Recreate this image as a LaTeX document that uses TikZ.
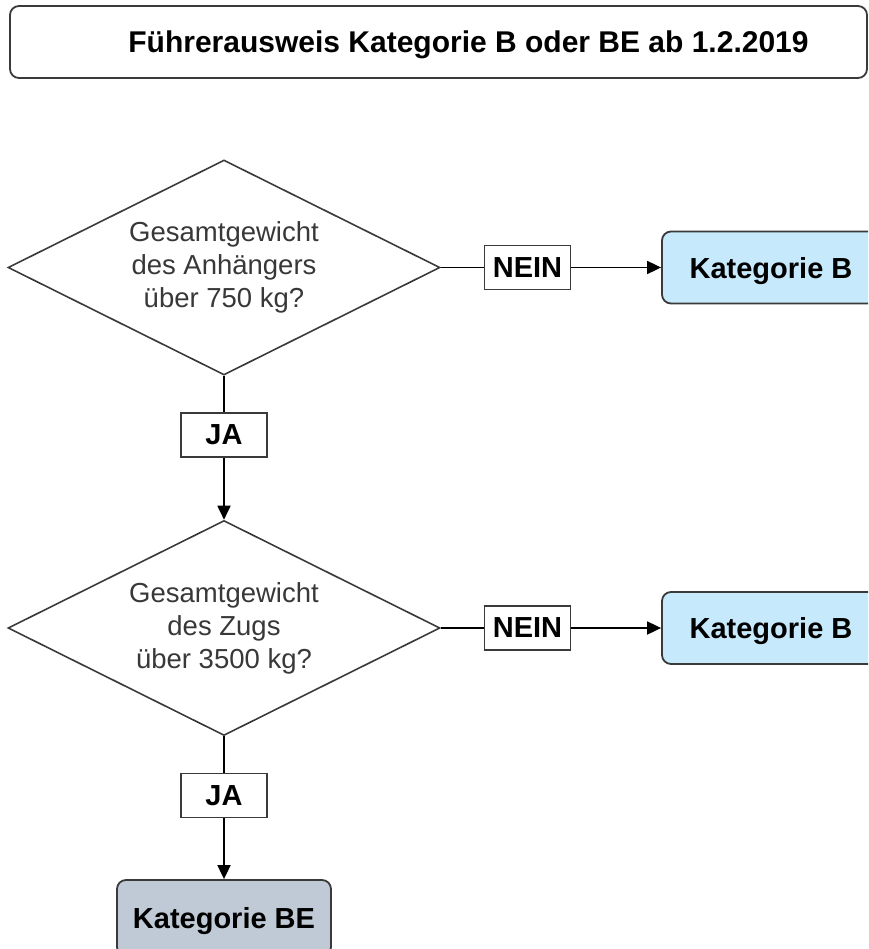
\documentclass[tikz,border=0pt]{standalone}
\usepackage{fontspec}
\setmainfont{Liberation Sans}
\usetikzlibrary{shapes.geometric,arrows.meta,positioning}
\definecolor{hellblau}{HTML}{C6EAFC}
\definecolor{graublau}{HTML}{BFCAD6}
\definecolor{rand}{HTML}{3A3A3A}
\begin{document}
\begin{tikzpicture}[x=1pt,y=-1pt,
    kasten/.style={draw=rand,line width=1.8pt,rounded corners=9pt,inner sep=0pt,minimum height=72pt,text depth=0pt,font=\fontsize{29}{33}\selectfont\bfseries},
    frage/.style={draw=rand,line width=1.6pt,diamond,aspect=2,minimum width=432pt,minimum height=215pt,inner sep=0pt,align=center,text=black!78,font=\fontsize{27.5}{33}\selectfont},
    antwort/.style={draw=rand,line width=1.8pt,minimum width=86pt,minimum height=44pt,inner sep=0pt,font=\fontsize{29}{33}\selectfont\bfseries},
    linie/.style={line width=1.8pt},
    pfeil/.style={line width=1.8pt,-{Triangle[length=14pt,width=13pt]}}]
  \useasboundingbox (0,0) rectangle (868,949);
  \clip (0,0) rectangle (868,949);
  \node[kasten,minimum width=857pt,font=\fontsize{30}{33}\selectfont\bfseries] (titel) at (438.5,42) {\hspace*{60pt}Führerausweis Kategorie B oder BE ab 1.2.2019};
  % erste Frage
  \node[frage] (f1) at (224,267.5) {Gesamtgewicht\\des Anhängers\\über 750 kg?};
  \node[antwort] (nein1) at (527.5,267.5) {NEIN};
  \node[kasten,fill=hellblau,minimum width=218pt] (b1) at (771,267.5) {Kategorie B};
  \node[antwort] (ja1) at (224,435) {JA};
  % zweite Frage
  \node[frage] (f2) at (224,628) {Gesamtgewicht\\des Zugs\\über 3500 kg?};
  \node[antwort] (nein2) at (527.5,628) {NEIN};
  \node[kasten,fill=hellblau,minimum width=218pt] (b2) at (771,628) {Kategorie B};
  \node[antwort] (ja2) at (224,795.5) {JA};
  \node[kasten,fill=graublau,minimum width=214pt,minimum height=76pt] (be) at (224,918) {Kategorie BE};
  \draw[linie] (f1.east) -- (nein1.west);
  \draw[pfeil] (nein1.east) -- (b1.west);
  \draw[linie] (f1.south) -- (ja1.north);
  \draw[pfeil] (ja1.south) -- (f2.north);
  \draw[linie] (f2.east) -- (nein2.west);
  \draw[pfeil] (nein2.east) -- (b2.west);
  \draw[linie] (f2.south) -- (ja2.north);
  \draw[pfeil] (ja2.south) -- (be.north);
\end{tikzpicture}
\end{document}
